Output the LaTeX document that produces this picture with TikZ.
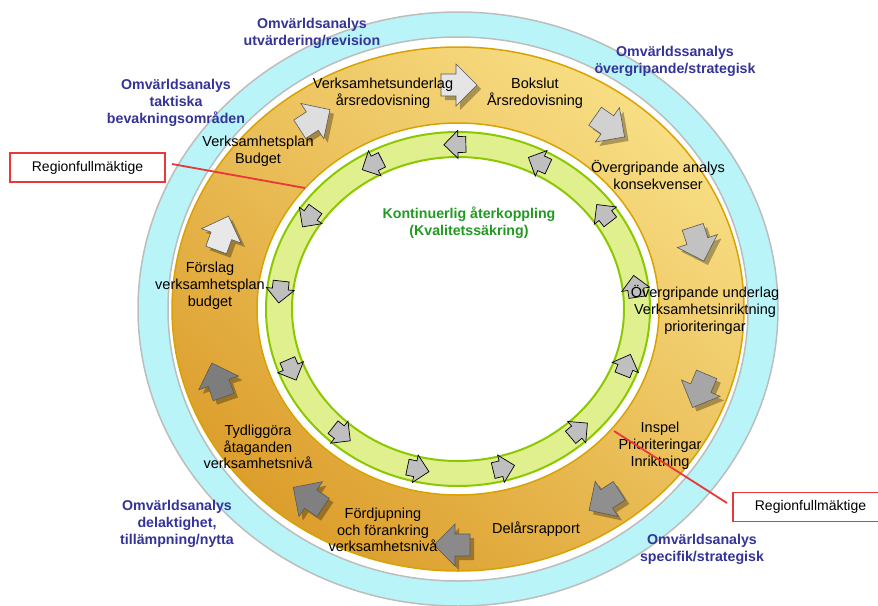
\documentclass[tikz,border=0pt]{standalone}
\usepackage{fontspec}
\setmainfont{Liberation Sans}
\definecolor{cyanfill}{HTML}{B8F4F8}
\definecolor{ringgray}{HTML}{BDBDBD}
\definecolor{orlight}{HTML}{F8DE84}
\definecolor{ordark}{HTML}{DC9E2C}
\definecolor{oredge}{HTML}{D9A200}
\definecolor{grfill}{HTML}{E0F08E}
\definecolor{gredge}{HTML}{8CC800}
\definecolor{bluetxt}{HTML}{333399}
\definecolor{greentxt}{HTML}{229A22}
\definecolor{redline}{HTML}{E8383A}
\begin{document}
\begin{tikzpicture}[x=1pt,y=1pt,
  lbl/.style={align=center,inner sep=0pt,font=\fontsize{14.5}{16.8}\selectfont},
  blbl/.style={align=center,inner sep=0pt,font=\fontsize{14.2}{17}\selectfont\bfseries,text=bluetxt},
  glbl/.style={align=center,inner sep=0pt,font=\fontsize{14.2}{17}\selectfont\bfseries,text=greentxt},
  rbox/.style={draw=redline,line width=1.8pt,minimum width=155pt,minimum height=29pt,inner sep=0pt,font=\fontsize{14}{16}\selectfont},
  rline/.style={draw=redline,line width=1.8pt},
  outarrow/.pic={\filldraw[fill=#1,draw=black!65,line width=0.6pt,line join=miter] (-17,-11)--(-2,-11)--(-2,-21)--(19,0)--(-2,21)--(-2,11)--(-17,11)--cycle;},
  outshadow/.pic={\fill[black,opacity=0.3] (-17,-11)--(-2,-11)--(-2,-21)--(19,0)--(-2,21)--(-2,11)--(-17,11)--cycle;},
  inarrow/.pic={\filldraw[fill=black!25,draw=black,line width=0.7pt,line join=miter] (-11,-8)--(-3,-8)--(-3,-14)--(11,0)--(-3,14)--(-3,8)--(-11,8)--cycle;},
]
\useasboundingbox (0,0) rectangle (878,-605);
\coordinate (c) at (458,-309);
% cyan ring
\fill[cyanfill,even odd rule] (c) ellipse [x radius=320,y radius=297] (c) ellipse [x radius=290,y radius=272];
\draw[ringgray,line width=1.5pt] (c) ellipse [x radius=320,y radius=297];
\draw[ringgray,line width=1.5pt] (c) ellipse [x radius=290,y radius=272];
% orange ring
\shade[even odd rule,top color=orlight,bottom color=ordark,shading angle=-40] (c) ellipse [x radius=286,y radius=262] (c) ellipse [x radius=201,y radius=186];
\draw[oredge,line width=1.5pt] (c) ellipse [x radius=286,y radius=262];
\draw[oredge,line width=1.5pt] (c) ellipse [x radius=201,y radius=186];
% green ring
\fill[grfill,even odd rule] (c) ellipse [x radius=192,y radius=177] (c) ellipse [x radius=166,y radius=152];
\draw[gredge,line width=2pt] (c) ellipse [x radius=192,y radius=177];
\draw[gredge,line width=2pt] (c) ellipse [x radius=166,y radius=152];
% outer arrows (clockwise)
\foreach \x/\y/\a/\col in {458/85/0/black!10, 609/126/-35/black!18, 698/243/-72/black!24, 700/390/-113/black!35, 605/500/-147/black!44, 453/545/180/black!46, 309/498/146/black!50, 218/381/109/black!51, 222/234/70/black!9, 314/120/33/black!13}{
  \pic[rotate=\a] at (\x+4,-\y-4) {outshadow};
  \pic[rotate=\a] at (\x,-\y) {outarrow=\col};
}
% inner arrows (counter-clockwise)
\foreach \k in {0,...,12}{
  \pgfmathsetmacro\t{91-27.6923*\k}
  \pgfmathsetmacro\ang{atan2(164.5*cos(\t),-179*sin(\t))}
  \pic[rotate=\ang] at ({458+179*cos(\t)},{-309+164.5*sin(\t)}) {inarrow};
}
% labels in orange ring
\node[lbl] (t1) at (383,-93) {Verksamhetsunderlag\\årsredovisning};
\node[lbl] (t2) at (535,-93) {Bokslut\\Årsredovisning};
\node[lbl] (t3) at (658,-175) {Övergripande analys\\konsekvenser};
\node[lbl] (t4) at (705,-310) {Övergripande underlag\\Verksamhetsinriktning\\prioriteringar};
\node[lbl] (t5) at (660,-446) {Inspel\\Prioriteringar\\Inriktning};
\node[lbl] (t6) at (536,-529) {Delårsrapport};
\node[lbl] (t7) at (383,-530) {Fördjupning\\och förankring\\verksamhetsnivå};
\node[lbl] (t8) at (258,-447) {Tydliggöra\\åtaganden\\verksamhetsnivå};
\node[lbl] (t9) at (210,-286) {Förslag\\verksamhetsplan\\budget};
\node[lbl] (t10) at (258,-151) {Verksamhetsplan\\Budget};
% blue labels
\node[blbl] (b1) at (312,-33) {Omvärldsanalys\\utvärdering/revision};
\node[blbl] (b2) at (675,-61) {Omvärldssanalys\\övergripande/strategisk};
\node[blbl] (b3) at (176,-103) {Omvärldsanalys\\taktiska\\bevakningsområden};
\node[blbl] (b4) at (177,-524) {Omvärldsanalys\\delaktighet,\\tillämpning/nytta};
\node[blbl] (b5) at (702,-549) {Omvärldsanalys\\specifik/strategisk};
% green title
\node[glbl] (g1) at (469,-223) {Kontinuerlig återkoppling\\(Kvalitetssäkring)};
% red boxes
\node[rbox] (rf1) at (87.5,-167.5) {Regionfullmäktige};
\node[rbox] (rf2) at (810.5,-507) {Regionfullmäktige};
\coordinate (a1) at (172,-164);
\coordinate (e1) at (305,-188);
\coordinate (a2) at (727,-503);
\coordinate (e2) at (614,-431);
\draw[rline] (a1) -- (e1);
\draw[rline] (a2) -- (e2);
\end{tikzpicture}
\end{document}
